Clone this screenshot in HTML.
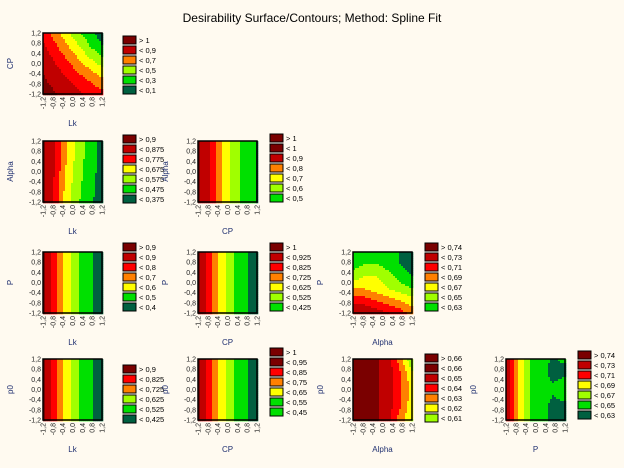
<!DOCTYPE html>
<html><head><meta charset="utf-8">
<style>
body{margin:0;background:#fffaf0;}
svg{display:block;font-family:"Liberation Sans",sans-serif;}
</style></head>
<body>
<svg id="chart" width="624" height="468">
<rect width="624" height="468" fill="#fffaf0"/>
<text x="312" y="22" text-anchor="middle" font-size="12" fill="#000">Desirability Surface/Contours; Method: Spline Fit</text>
</svg>
<script>
const palette=["#7a0000","#c00000","#ff0000","#ff8000","#ffff00","#a0ff00","#00e000","#006040"];
const xNames=["Lk","Lk","CP","Lk","CP","Alpha","Lk","CP","Alpha","P"];
const yNames=["CP","Alpha","Alpha","P","P","P","p0","p0","p0","p0"];
const tickLabels=["-1,2","-0,8","-0,4","0,0","0,4","0,8","1,2"];
const yTickLabels=["1,2","0,8","0,4","0,0","-0,4","-0,8","-1,2"];
const legendLabels=[
["> 1","< 0,9","< 0,7","< 0,5","< 0,3","< 0,1"],
["> 0,9","< 0,875","< 0,775","< 0,675","< 0,575","< 0,475","< 0,375"],
["> 1","< 1","< 0,9","< 0,8","< 0,7","< 0,6","< 0,5"],
["> 0,9","< 0,9","< 0,8","< 0,7","< 0,6","< 0,5","< 0,4"],
["> 1","< 0,925","< 0,825","< 0,725","< 0,625","< 0,525","< 0,425"],
["> 0,74","< 0,73","< 0,71","< 0,69","< 0,67","< 0,65","< 0,63"],
["> 0,9","< 0,825","< 0,725","< 0,625","< 0,525","< 0,425"],
["> 1","< 0,95","< 0,85","< 0,75","< 0,65","< 0,55","< 0,45"],
["> 0,66","< 0,66","< 0,65","< 0,64","< 0,63","< 0,62","< 0,61"],
["> 0,74","< 0,73","< 0,71","< 0,69","< 0,67","< 0,65","< 0,63"]];
const legendColors=[
[0,1,3,5,6,7],[0,1,2,4,5,6,7],[0,0,1,3,4,5,6],[0,1,2,3,4,6,7],[0,1,2,3,4,5,6],
[0,1,2,3,4,5,6],[0,2,3,5,6,7],[0,0,2,3,4,6,6],[0,0,1,2,3,4,5],[0,1,2,4,5,6,7]];
const grids=[
[[1.8,3,4.2,5.3,6.2,7],[1.3,2.3,3.4,4.5,5.6,6.5],[0.9,1.7,2.6,3.6,4.6,5.5],[0.6,1.2,1.9,2.7,3.5,4.2],[0.3,0.8,1.3,1.9,2.5,3.1],[0,0.4,0.8,1.3,1.8,2.2]],
[[0.3,1.4,3.4,5,6,6.9],[0.3,1.4,3.4,5,6,6.9],[0.3,1.5,3.6,5.1,6,6.9],[0.3,1.6,3.8,5.2,6.1,7],[0.3,1.7,4,5.3,6.2,7],[0.3,1.8,4.1,5.4,6.3,7]],
[[0.3,1.5,3.6,5,5.9,6.6],[0.3,1.5,3.6,5,5.9,6.6],[0.3,1.5,3.6,5,5.9,6.6],[0.3,1.5,3.6,5,5.9,6.6],[0.3,1.5,3.6,5,5.9,6.6],[0.3,1.5,3.6,5,5.9,6.6]],
[[0.3,2,4,5.5,6.3,7],[0.3,2,4,5.5,6.3,7],[0.3,2,4,5.5,6.3,7],[0.3,2,4,5.5,6.3,7],[0.3,2,4,5.5,6.3,7],[0.3,2,4,5.5,6.3,7]],
[[0.3,2,4,5.5,6.3,7],[0.3,2,4,5.5,6.3,7],[0.3,2,4,5.5,6.3,7],[0.3,2,4,5.5,6.3,7],[0.3,2,4,5.5,6.3,7],[0.3,2,4,5.5,6.3,7]],
[[6,6,6,6,6.6,7],[6,5.5,5.5,6,6.5,7],[5,4.5,4.5,5,6,6.5],[3.5,3.5,4,4.5,5,5.5],[2,2,2.5,3,3.5,4],[0.5,0.5,1,1.5,2,3]],
[[0.3,2,4,5.5,6.3,7],[0.3,2,4,5.5,6.3,7],[0.3,2,4,5.5,6.3,7],[0.3,2,4,5.5,6.3,7],[0.3,2,4,5.5,6.3,7],[0.3,2,4,5.5,6.3,7]],
[[0.3,2,4,5.5,6.3,7],[0.3,2,4,5.5,6.3,7],[0.3,2,4,5.5,6.3,7],[0.3,2,4,5.5,6.3,7],[0.3,2,4,5.5,6.3,7],[0.3,2,4,5.5,6.3,7]],
[[0,0,0.3,1,3,5.5],[0,0,0.3,1,2.5,4.5],[0,0,0.3,1,2.3,4],[0,0,0.3,1,2.3,4],[0,0,0.3,1,2.5,4.2],[0,0,0.4,1.2,3,4.5]],
[[0.3,3.5,5.5,6.2,6.6,6.3],[0.3,3.5,5.5,6.2,6.8,6.8],[0.3,3.5,5.5,6.2,6.5,6.2],[0.3,3.5,5.5,6.2,6.5,6.2],[0.3,3.5,5.5,6.2,6.8,6.8],[0.3,3.5,5.5,6.2,6.8,7]]];
const panelCol=[0,0,1,0,1,2,0,1,2,3];
const panelRow=[0,1,1,2,2,2,3,3,3,3];
const legendTop=[36,135,134,243,243,243,365,348,354,351];

const colX=[43,198,353,506], rowY=[33,141,252,359], PW=59, PH=61, legX=[123,270,425,578];
const NS="http://www.w3.org/2000/svg";
const svg=document.getElementById('chart');
function mk(t,a,p){const e=document.createElementNS(NS,t);for(const k in a)e.setAttribute(k,a[k]);(p||svg).appendChild(e);return e;}
function sx(px,v){return px+(v+1.2)/2.4*PW;}
function sy(py,v){return py+(1.2-v)/2.4*PH;}
function field(g,u,w){
  const n=g[0].length-1,m=g.length-1;
  const fx=u*n,fy=w*m;const i=Math.min(Math.floor(fx),n-1),j=Math.min(Math.floor(fy),m-1);
  const a=fx-i,b=fy-j;
  return g[j][i]*(1-a)*(1-b)+g[j][i+1]*a*(1-b)+g[j+1][i]*(1-a)*b+g[j+1][i+1]*a*b;
}
for(let p=0;p<grids.length;p++){
  const px=colX[panelCol[p]],py=rowY[panelRow[p]];
  const g=mk('g',{});
  
  
  const step=2;
  for(let yy=0;yy<PH;yy+=step){for(let xx=0;xx<PW;xx+=step){
    const v=field(grids[p],(xx+1)/PW,(yy+1)/PH);
    const c=palette[Math.max(0,Math.min(7,Math.round(v)))];
    const r=mk('rect',{x:px+xx,y:py+yy,width:step+0.3,height:step+0.3,fill:c},g);
    
    
  }}
  mk('rect',{x:px,y:py,width:PW,height:PH,fill:'none',stroke:'#000','stroke-width':1.5},g);
  for(let k=0;k<tickLabels.length;k++){
    const v=-1.2+0.4*k;
    const tx=sx(px,v);
    const t=mk('text',{x:0,y:0,'font-size':7,fill:'#222','text-anchor':'end',transform:`translate(${tx+2.5},${py+PH+3}) rotate(-90)`},g);
    t.textContent=tickLabels[k];
    
    
    const vy=1.2-0.4*k;
    const ty=sy(py,vy);
    const t2=mk('text',{x:px-2,y:ty+2.5,'font-size':7,fill:'#222','text-anchor':'end'},g);
    t2.textContent=yTickLabels[k];
    
    
  }
  const xl=mk('text',{x:px+PW/2,y:py+PH+32,'font-size':8,fill:'#203070','text-anchor':'middle'},g);
  xl.textContent=xNames[p];
  
  
  const yl=mk('text',{x:0,y:0,'font-size':8,fill:'#203070','text-anchor':'middle',transform:`translate(${px-30},${py+PH/2}) rotate(-90)`},g);
  yl.textContent=yNames[p];
  
  
  const lg=mk('g',{});
  
  
  for(let k=0;k<legendLabels[p].length;k++){
    const ly=legendTop[p]+k*10;
    const e=mk('g',{},lg);
    
    
    mk('rect',{x:legX[panelCol[p]],y:ly,width:13,height:8,fill:palette[legendColors[p][k]],stroke:'#000','stroke-width':1},e);
    const t=mk('text',{x:legX[panelCol[p]]+16,y:ly+7,'font-size':7.5,fill:'#000'},e);
    t.textContent=legendLabels[p][k];
  }
}
</script>
</body></html>
